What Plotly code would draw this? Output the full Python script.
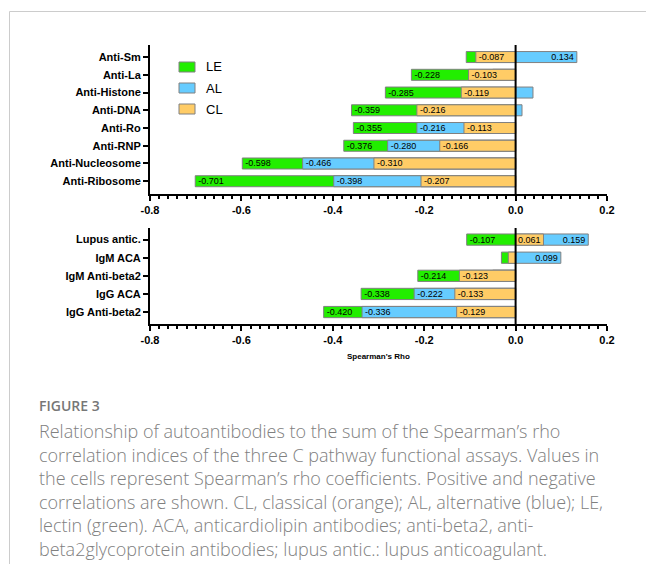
import plotly.graph_objects as go

# ---------------- data ----------------
upper_cats = ["Anti-Sm", "Anti-La", "Anti-Histone", "Anti-DNA", "Anti-Ro",
              "Anti-RNP", "Anti-Nucleosome", "Anti-Ribosome"]
upper_LE = [-0.108, -0.228, -0.285, -0.359, -0.355, -0.376, -0.598, -0.701]
upper_AL = [0.134, -0.050, 0.038, 0.014, -0.216, -0.280, -0.466, -0.398]
upper_CL = [-0.087, -0.103, -0.119, -0.216, -0.113, -0.166, -0.310, -0.207]
upper_LE_lbl = ["", "-0.228", "-0.285", "-0.359", "-0.355", "-0.376", "-0.598", "-0.701"]
upper_AL_lbl = ["0.134", "", "", "", "-0.216", "-0.280", "-0.466", "-0.398"]
upper_CL_lbl = ["-0.087", "-0.103", "-0.119", "-0.216", "-0.113", "-0.166", "-0.310", "-0.207"]

lower_cats = ["Lupus antic.", "IgM ACA", "IgM Anti-beta2", "IgG ACA", "IgG Anti-beta2"]
lower_LE = [-0.107, -0.031, -0.214, -0.338, -0.420]
lower_AL = [0.159, 0.099, -0.050, -0.222, -0.336]
lower_CL = [0.061, -0.016, -0.123, -0.133, -0.129]
lower_LE_lbl = ["-0.107", "", "-0.214", "-0.338", "-0.420"]
lower_AL_lbl = ["0.159", "0.099", "", "-0.222", "-0.336"]
lower_CL_lbl = ["0.061", "", "-0.123", "-0.133", "-0.129"]

x_tickvals = [-0.8, -0.6, -0.4, -0.2, 0.0, 0.2]
x_ticktext = ["-0.8", "-0.6", "-0.4", "-0.2", "0.0", "0.2"]

series_names = ["LE", "AL", "CL"]
colors = {"LE": "#22ee00", "AL": "#66ccff", "CL": "#ffcc66"}

caption_title = "FIGURE 3"
caption_lines = [
    "Relationship of autoantibodies to the sum of the Spearman\u2019s rho",
    "correlation indices of the three C pathway functional assays. Values in",
    "the cells represent Spearman\u2019s rho coefficients. Positive and negative",
    "correlations are shown. CL, classical (orange); AL, alternative (blue); LE,",
    "lectin (green). ACA, anticardiolipin antibodies; anti-beta2, anti-",
    "beta2glycoprotein antibodies; lupus antic.: lupus anticoagulant.",
]

# ---------------- geometry ----------------
W, H = 646, 564
L, R, T, B = 150, 39, 45, 240
PW, PH = W - L - R, H - T - B


def px(x):
    return (x - L) / PW


def py(y):
    return (H - B - y) / PH


ARIAL = "Liberation Sans, Arial, sans-serif"
fig = go.Figure()

upper = {"LE": (upper_LE, upper_LE_lbl), "AL": (upper_AL, upper_AL_lbl), "CL": (upper_CL, upper_CL_lbl)}
lower = {"LE": (lower_LE, lower_LE_lbl), "AL": (lower_AL, lower_AL_lbl), "CL": (lower_CL, lower_CL_lbl)}

for cats, data, xa, ya in [(upper_cats, upper, "x", "y"), (lower_cats, lower, "x2", "y2")]:
    for name in series_names:
        vals, lbls = data[name]
        fig.add_trace(go.Bar(
            x=vals, y=cats, orientation="h", name=name,
            xaxis=xa, yaxis=ya, width=0.62,
            marker=dict(color=colors[name], line=dict(color="#808080", width=1)),
            text=lbls, textposition="inside", insidetextanchor="end", textangle=0,
            insidetextfont=dict(color="black", size=9, family=ARIAL),
            showlegend=False, hoverinfo="skip",
        ))

axis_common = dict(
    showline=True, linecolor="black", linewidth=2, showgrid=False, zeroline=False,
    ticks="outside", ticklen=5, tickwidth=2, tickcolor="black",
    tickfont=dict(family=ARIAL, size=11, color="black", weight="bold"),
)
xcommon = dict(axis_common, range=[-0.8, 0.2], tickvals=x_tickvals, ticktext=x_ticktext,
               minor=dict(dtick=0.02, ticks="outside", ticklen=3, tickwidth=1.5, tickcolor="black"))

up_bottom = py(194)
lo_top = py(228)

fig.update_layout(
    width=W, height=H,
    margin=dict(l=L, r=R, t=T, b=B),
    paper_bgcolor="white", plot_bgcolor="white",
    barmode="overlay",
    uniformtext=dict(minsize=9, mode="show"),
    xaxis=dict(xcommon, anchor="y"),
    yaxis=dict(axis_common, domain=[up_bottom, 1], anchor="x",
               range=[len(upper_cats) - 1 + 0.72, -0.68]),
    xaxis2=dict(xcommon, anchor="y2"),
    yaxis2=dict(axis_common, domain=[0, lo_top], anchor="x2",
                range=[len(lower_cats) - 1 + 0.66, -0.64]),
)

shapes = []
# zero lines
shapes.append(dict(type="line", xref="x", yref="y domain", x0=0, x1=0, y0=0, y1=1,
                   line=dict(color="black", width=2), layer="above"))
shapes.append(dict(type="line", xref="x2", yref="y2 domain", x0=0, x1=0, y0=0, y1=1,
                   line=dict(color="black", width=2), layer="above"))
# page border
shapes.append(dict(type="line", xref="paper", yref="paper", x0=px(9.5), x1=px(646), y0=py(11.5), y1=py(11.5),
                   line=dict(color="#cccccc", width=1)))
shapes.append(dict(type="line", xref="paper", yref="paper", x0=px(9.5), x1=px(9.5), y0=py(11.5), y1=py(564),
                   line=dict(color="#cccccc", width=1)))

annotations = []
# legend
for i, name in enumerate(series_names):
    yc = 67 + 21 * i
    shapes.append(dict(type="rect", xref="paper", yref="paper",
                       x0=px(179), x1=px(195), y0=py(yc - 5), y1=py(yc + 5),
                       fillcolor=colors[name], line=dict(color="#808080", width=1)))
    annotations.append(dict(xref="paper", yref="paper", x=px(204), y=py(yc), text=name,
                            showarrow=False, xanchor="left", yanchor="middle",
                            font=dict(family=ARIAL, size=13, color="black")))

# x-axis title
annotations.append(dict(xref="paper", yref="paper", x=0.5, y=py(356), text="Spearman's Rho",
                        showarrow=False, xanchor="center", yanchor="middle",
                        font=dict(family=ARIAL, size=8, color="black", weight="bold")))

# caption
annotations.append(dict(xref="paper", yref="paper", x=px(37), y=py(406), text=caption_title,
                        showarrow=False, xanchor="left", yanchor="middle",
                        font=dict(family="Open Sans, sans-serif", size=14, color="#777777", weight=600)))
for i, line in enumerate(caption_lines):
    annotations.append(dict(xref="paper", yref="paper", x=px(37), y=py(431 + 23.6 * i), text=line,
                            showarrow=False, xanchor="left", yanchor="middle",
                            font=dict(family="Open Sans, sans-serif", size=18, color="#808080", weight=300)))

fig.update_layout(shapes=shapes, annotations=annotations)
fig.write_html("out.html", config={"displayModeBar": False},
               post_script="document.body.style.margin='0';document.body.style.overflow='hidden';")
